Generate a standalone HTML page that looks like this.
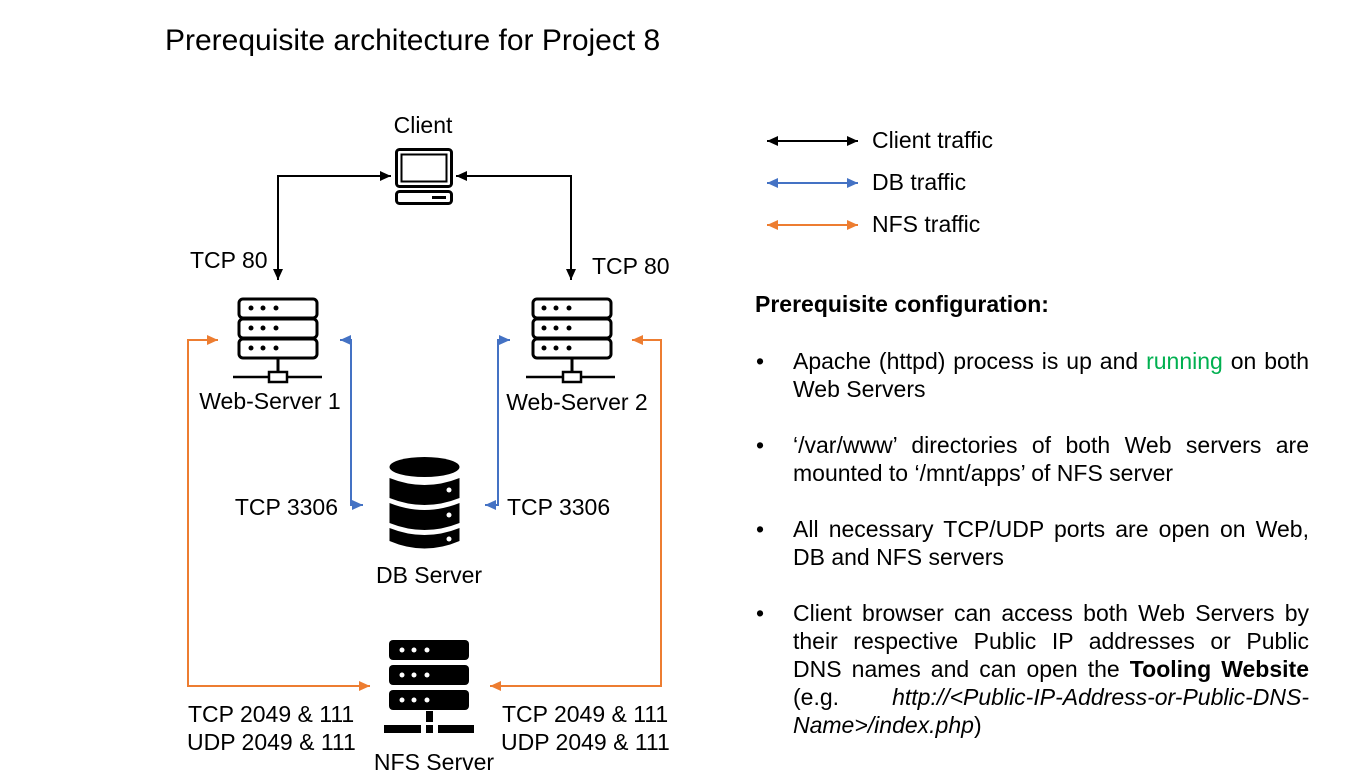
<!DOCTYPE html>
<html><head><meta charset="utf-8"><style>
html,body{margin:0;padding:0;background:#fff;}
body{width:1370px;height:777px;position:relative;overflow:hidden;font-family:"Liberation Sans",Arial,sans-serif;color:#000;}
svg{position:absolute;left:0;top:0;}
.t{position:absolute;font-size:23px;line-height:28px;white-space:nowrap;}
.j{text-align:justify;text-align-last:justify;width:516px;left:793px;white-space:normal;}
.n{left:793px;}
.b{left:756px;}
</style></head><body>
<svg width="1370" height="777" viewBox="0 0 1370 777" font-family="Liberation Sans, Arial, sans-serif">
<defs>
<marker id="ak" markerUnits="userSpaceOnUse" markerWidth="12" markerHeight="10" refX="11" refY="5" orient="auto"><path d="M0,0 L11,5 L0,10 z" fill="#000"/></marker>
<marker id="ab" markerUnits="userSpaceOnUse" markerWidth="12" markerHeight="10" refX="11" refY="5" orient="auto"><path d="M0,0 L11,5 L0,10 z" fill="#4472C4"/></marker>
<marker id="ao" markerUnits="userSpaceOnUse" markerWidth="12" markerHeight="10" refX="11" refY="5" orient="auto"><path d="M0,0 L11,5 L0,10 z" fill="#ED7D31"/></marker>
<marker id="skb" markerUnits="userSpaceOnUse" markerWidth="12" markerHeight="10" refX="0" refY="5" orient="auto"><path d="M11,0 L0,5 L11,10 z" fill="#000"/></marker>
<marker id="sbb" markerUnits="userSpaceOnUse" markerWidth="12" markerHeight="10" refX="0" refY="5" orient="auto"><path d="M11,0 L0,5 L11,10 z" fill="#4472C4"/></marker>
<marker id="sob" markerUnits="userSpaceOnUse" markerWidth="12" markerHeight="10" refX="0" refY="5" orient="auto"><path d="M11,0 L0,5 L11,10 z" fill="#ED7D31"/></marker>
</defs>
<text x="165" y="50" font-size="30">Prerequisite architecture for Project 8</text>

<text x="423" y="133" font-size="23" text-anchor="middle">Client</text>
<rect x="396.5" y="149.5" width="55" height="37" rx="3" fill="none" stroke="#000" stroke-width="3"/>
<rect x="401.5" y="154.5" width="45" height="27" fill="none" stroke="#000" stroke-width="2"/>
<rect x="396.5" y="191.5" width="55" height="12" rx="3" fill="none" stroke="#000" stroke-width="3"/>
<rect x="432" y="196" width="14" height="3" fill="#000"/>

<polyline points="278,280 278,176 391,176" fill="none" stroke="#000" stroke-width="2" marker-end="url(#ak)" marker-start="url(#skb)"/>
<polyline points="571,280 571,176 456,176" fill="none" stroke="#000" stroke-width="2" marker-end="url(#ak)" marker-start="url(#skb)"/>
<text x="190" y="268" font-size="23">TCP 80</text>
<text x="592" y="274" font-size="23">TCP 80</text>

<g fill="none" stroke="#000" stroke-width="3">
<rect x="239" y="299" width="78" height="19" rx="4"/><rect x="239" y="319" width="78" height="19" rx="4"/><rect x="239" y="339" width="78" height="19" rx="4"/>
<line x1="278" y1="359" x2="278" y2="372"/><line x1="233" y1="377" x2="322" y2="377" stroke-width="2.5"/>
<rect x="269" y="372" width="18" height="10" fill="#fff" stroke-width="2.5"/>
<rect x="533" y="299" width="78" height="19" rx="4"/><rect x="533" y="319" width="78" height="19" rx="4"/><rect x="533" y="339" width="78" height="19" rx="4"/>
<line x1="572" y1="359" x2="572" y2="372"/><line x1="526" y1="377" x2="615" y2="377" stroke-width="2.5"/>
<rect x="563" y="372" width="18" height="10" fill="#fff" stroke-width="2.5"/>
</g>
<g fill="#000">
<circle cx="251" cy="308" r="2.5"/><circle cx="263" cy="308" r="2.5"/><circle cx="276" cy="308" r="2.5"/>
<circle cx="251" cy="328" r="2.5"/><circle cx="263" cy="328" r="2.5"/><circle cx="276" cy="328" r="2.5"/>
<circle cx="251" cy="348" r="2.5"/><circle cx="263" cy="348" r="2.5"/><circle cx="276" cy="348" r="2.5"/>
<circle cx="544" cy="308" r="2.5"/><circle cx="556" cy="308" r="2.5"/><circle cx="569" cy="308" r="2.5"/>
<circle cx="544" cy="328" r="2.5"/><circle cx="556" cy="328" r="2.5"/><circle cx="569" cy="328" r="2.5"/>
<circle cx="544" cy="348" r="2.5"/><circle cx="556" cy="348" r="2.5"/><circle cx="569" cy="348" r="2.5"/>
</g>
<text x="270" y="409" font-size="23" text-anchor="middle">Web-Server 1</text>
<text x="577" y="410" font-size="23" text-anchor="middle">Web-Server 2</text>

<polyline points="218,340 188,340 188,686 370,686" fill="none" stroke="#ED7D31" stroke-width="2" marker-start="url(#sob)" marker-end="url(#ao)"/>
<polyline points="632,340 661,340 661,686 490,686" fill="none" stroke="#ED7D31" stroke-width="2" marker-start="url(#sob)" marker-end="url(#ao)"/>
<polyline points="340,340 351,340 351,505 363,505" fill="none" stroke="#4472C4" stroke-width="2" marker-start="url(#sbb)" marker-end="url(#ab)"/>
<polyline points="510,340 498,340 498,505 485,505" fill="none" stroke="#4472C4" stroke-width="2" marker-start="url(#sbb)" marker-end="url(#ab)"/>

<g fill="#000">
<ellipse cx="424.5" cy="467" rx="35" ry="10"/>
<path d="M389.5,478 Q424.5,492 459.5,478 L459.5,498 Q424.5,512 389.5,498 z"/>
<path d="M389.5,503 Q424.5,517 459.5,503 L459.5,523 Q424.5,537 389.5,523 z"/>
<path d="M389.5,528 Q424.5,542 459.5,528 L459.5,541 Q424.5,556 389.5,541 z"/>
</g>
<g fill="#fff"><circle cx="449" cy="490" r="2.5"/><circle cx="449" cy="515" r="2.5"/><circle cx="449" cy="539" r="2.5"/></g>
<text x="429" y="583" font-size="23" text-anchor="middle">DB Server</text>
<text x="338" y="515" font-size="23" text-anchor="end">TCP 3306</text>
<text x="507" y="515" font-size="23">TCP 3306</text>

<g fill="#000">
<rect x="389" y="640" width="80" height="20" rx="4"/><rect x="389" y="665" width="80" height="20" rx="4"/><rect x="389" y="690" width="80" height="20" rx="4"/>
<rect x="426" y="711" width="7" height="11"/>
<rect x="384" y="725" width="37" height="8"/><rect x="426" y="725" width="7" height="8"/><rect x="438" y="725" width="36" height="8"/>
</g>
<g fill="#fff">
<circle cx="402" cy="650" r="2.5"/><circle cx="414" cy="650" r="2.5"/><circle cx="427" cy="650" r="2.5"/>
<circle cx="402" cy="675" r="2.5"/><circle cx="414" cy="675" r="2.5"/><circle cx="427" cy="675" r="2.5"/>
<circle cx="402" cy="700" r="2.5"/><circle cx="414" cy="700" r="2.5"/><circle cx="427" cy="700" r="2.5"/>
</g>
<text x="434" y="770" font-size="23" text-anchor="middle">NFS Server</text>
<text x="188" y="722" font-size="23">TCP 2049 &amp; 111</text>
<text x="187" y="750" font-size="23">UDP 2049 &amp; 111</text>
<text x="502" y="722" font-size="23">TCP 2049 &amp; 111</text>
<text x="501" y="750" font-size="23">UDP 2049 &amp; 111</text>

<line x1="767" y1="141" x2="858" y2="141" stroke="#000" stroke-width="2" marker-start="url(#skb)" marker-end="url(#ak)"/>
<line x1="767" y1="183" x2="858" y2="183" stroke="#4472C4" stroke-width="2" marker-start="url(#sbb)" marker-end="url(#ab)"/>
<line x1="767" y1="225" x2="858" y2="225" stroke="#ED7D31" stroke-width="2" marker-start="url(#sob)" marker-end="url(#ao)"/>
<text x="872" y="148" font-size="23">Client traffic</text>
<text x="872" y="190" font-size="23">DB traffic</text>
<text x="872" y="232" font-size="23">NFS traffic</text>
</svg>

<div class="t" style="left:755px;top:290px;font-weight:bold;">Prerequisite configuration:</div>

<div class="t b" style="top:347px;">•</div>
<div class="t j" style="top:347px;">Apache (httpd) process is up and <span style="color:#00B050">running</span> on both</div>
<div class="t n" style="top:375px;">Web Servers</div>

<div class="t b" style="top:431px;">•</div>
<div class="t j" style="top:431px;">‘/var/www’ directories of both Web servers are</div>
<div class="t n" style="top:459px;">mounted to ‘/mnt/apps’ of NFS server</div>

<div class="t b" style="top:515px;">•</div>
<div class="t j" style="top:515px;">All necessary TCP/UDP ports are open on Web,</div>
<div class="t n" style="top:543px;">DB and NFS servers</div>

<div class="t b" style="top:599px;">•</div>
<div class="t j" style="top:599px;">Client browser can access both Web Servers by</div>
<div class="t j" style="top:627px;">their respective Public IP addresses or Public</div>
<div class="t j" style="top:655px;">DNS names and can open the <b>Tooling Website</b></div>
<div class="t j" style="top:683px;">(e.g. <i>http://&lt;Public-IP-Address-or-Public-DNS-</i></div>
<div class="t n" style="top:711px;"><i>Name&gt;/index.php</i>)</div>
</body></html>
